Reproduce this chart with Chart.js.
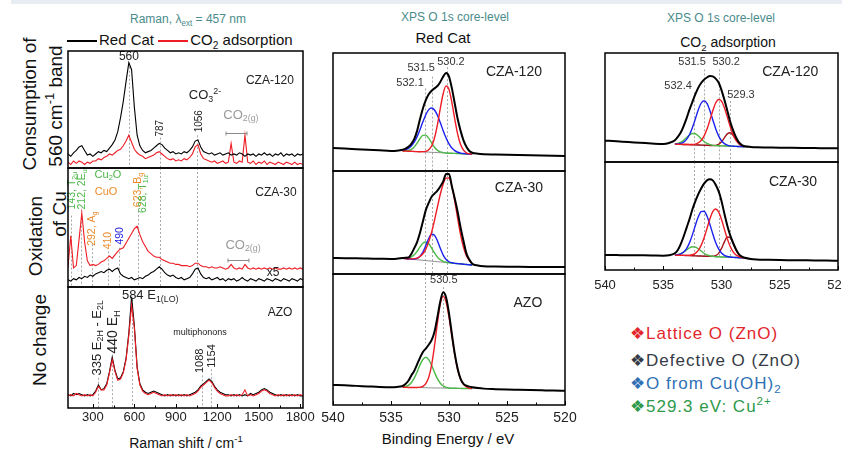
<!DOCTYPE html>
<html>
<head>
<meta charset="utf-8">
<title>Raman and XPS O 1s</title>
<script src="https://cdn.jsdelivr.net/npm/chart.js@4.4.0/dist/chart.umd.min.js"></script>
<style>
body { margin:0; background:#fff; width:842px; height:450px; overflow:hidden; position:relative;
  font-family:"Liberation Sans", Arial, Helvetica, sans-serif; color:#111; }
canvas { position:absolute; }
.band { position:absolute; left:11px; top:0; width:831px; height:4px; background:#e7edf3; }
.c { position:absolute; white-space:nowrap; line-height:1; transform:translate(-50%,-50%); }
.r { transform:translate(-50%,-50%) rotate(-90deg); }
sub, sup { font-size:68%; line-height:0; }
.lgd { position:absolute; white-space:nowrap; line-height:1; }
.ln { display:inline-block; width:30px; border-top:2px solid; vertical-align:middle; margin:0 2px 0 0; }
.k { position:absolute; left:630px; white-space:nowrap; line-height:1; transform:translateY(-50%);
  font-size:17px; letter-spacing:1px; }
</style>
</head>
<body>
<div class="band"></div>

<div class="c" style="left:188px;top:19px;font-size:12px;color:#4a8b8b">Raman, λ<sub>ext</sub> = 457 nm</div>
<div class="lgd" style="left:67px;top:32px;font-size:15px"><span class="ln" style="border-color:#000"></span>Red Cat <span class="ln" style="border-color:#ee1c24"></span>CO<sub>2</sub> adsorption</div>
<div class="c" style="left:455px;top:17px;font-size:12px;color:#4a8b8b">XPS O 1s core-level</div>
<div class="c" style="left:443px;top:37px;font-size:15px">Red Cat</div>
<div class="c" style="left:721px;top:18px;font-size:12px;color:#4a8b8b">XPS O 1s core-level</div>
<div class="c" style="left:728px;top:42px;font-size:14px">CO<sub>2</sub> adsorption</div>

<div class="c r" style="left:29px;top:104px;font-size:19px">Consumption of</div>
<div class="c r" style="left:55px;top:106px;font-size:19px">560 cm<sup>-1</sup> band</div>
<div class="c r" style="left:35px;top:236px;font-size:19px">Oxidation</div>
<div class="c r" style="left:59px;top:214px;font-size:19px">of Cu</div>
<div class="c r" style="left:39px;top:340px;font-size:19px">No change</div>

<div class="c" style="left:186px;top:443px;font-size:14px">Raman shift / cm<sup>-1</sup></div>
<div class="c" style="left:448px;top:438px;font-size:15px">Binding Energy / eV</div>

<div class="k" style="top:333px;color:#e3262b">❖Lattice O (ZnO)</div>
<div class="k" style="top:360px;color:#353b46">❖Defective O (ZnO)</div>
<div class="k" style="top:383px;color:#2f70b5">❖O from Cu(OH)<sub>2</sub></div>
<div class="k" style="top:406px;color:#2e9a4c">❖529.3 eV: Cu<sup>2+</sup></div>

<script>
// ---- Raman data (cm-1, intensity in arbitrary units 0-100 per panel)
const ramanShift = [120,140,160,180,200,220,240,260,280,300,
  320,340,360,380,400,420,440,460,480,500,
  520,540,560,580,600,620,640,660,680,700,
  720,740,760,780,800,820,840,860,880,900,
  920,940,960,980,1000,1020,1040,1060,1080,1100,
  1120,1140,1160,1180,1200,1220,1240,1260,1280,1300,
  1320,1340,1360,1380,1400,1420,1440,1460,1480,1500,
  1520,1540,1560,1580,1600,1620,1640,1660,1680,1700,
  1720,1740,1760,1780,1800,1820];
const ramanTicks = [300, 600, 900, 1200, 1500, 1800];

const cza120RedCat = [12,10,13,15,18,19,15,11,12,10, 12,14,13,15,14,17,20,24,31,43,
  57,74,90,84,52,28,19,15,13,14, 15,17,19,21,20,17,15,13,14,12,
  13,12,14,13,15,18,23,24,18,14, 13,12,13,11,12,13,11,12,13,11,
  12,11,13,12,10,12,11,12,10,12, 11,13,11,12,10,12,11,13,10,12, 11,12,10,12,11,12];
const cza120CO2 = [5,3,6,4,6,5,3,5,4,6, 6,8,7,9,10,12,11,13,15,16,
  19,23,28,22,16,13,11,10,8,9, 10,11,13,14,12,10,8,7,8,6,
  7,6,8,7,9,12,18,20,12,8, 7,6,5,6,4,5,6,4,5,21,
  5,4,6,5,28,5,4,6,3,5, 4,6,3,5,4,3,5,4,3,5, 4,3,5,3,4,3];
const cza30RedCat = [6,5,7,6,8,7,9,8,10,9, 11,12,13,12,14,15,13,15,16,11,
  9,8,7,8,6,7,8,7,9,10, 12,13,15,17,15,12,10,9,10,8,
  7,8,6,7,8,11,15,16,11,8, 7,8,6,7,8,6,7,5,7,6,
  7,5,6,8,6,5,7,6,5,7, 6,5,7,6,5,7,6,5,7,6, 5,7,6,5,7,6];
const cza30CO2 = [17,43,16,18,40,62,38,22,18,19, 18,19,21,22,24,26,24,27,30,32,
  33,37,41,45,49,51,44,38,34,30, 28,26,25,25,23,22,21,20,20,19,
  19,18,18,18,17,18,20,20,18,17, 17,16,17,16,16,17,16,15,16,19,
  16,15,16,15,19,16,15,16,15,16, 15,16,15,16,15,16,15,15,16,15, 16,15,16,15,16,15];
const azoRedCat = [11,10,12,11,12,11,10,11,10,11, 14,19,15,16,20,30,42,31,24,25,
  30,41,62,92,68,34,20,15,13,12, 13,14,13,12,11,10,11,10,11,10,
  11,10,11,10,11,12,13,15,18,20, 22,24,22,18,15,13,12,11,11,10,
  11,10,11,10,11,10,12,11,12,13, 15,16,15,13,12,11,10,11,10,11, 10,11,10,11,10,10];
const azoCO2 = [10,11,10,12,11,10,11,10,11,10, 13,18,15,15,19,29,40,30,23,24,
  29,40,60,85,66,33,19,14,12,11, 12,13,12,11,10,11,10,11,10,11,
  10,11,10,11,10,11,12,14,17,19, 21,23,21,17,14,12,11,10,10,11,
  10,11,10,11,15,10,11,10,11,12, 14,15,14,12,11,10,11,10,11,10, 11,10,11,10,11,10];

// ---- XPS O 1s data (binding energy eV, intensity 0-100 per panel)
const xpsEnergy = [540,539,538,537,536,535,534.5,
  534,533.75,533.5,533.25,533,532.75,532.5,532.25,532,531.75,531.5,531.25,531,
  530.75,530.5,530.25,530,529.75,529.5,529.25,529,528.75,528.5,528.25,528,
  527.5,527,526,525,524,523,522,521,520];
const xpsPeakEnergy = [534,533.75,533.5,533.25,533,532.75,532.5,532.25,532,531.75,531.5,531.25,531,
  530.75,530.5,530.25,530,529.75,529.5,529.25,529,528.75,528.5,528.25,528];
const xpsTicks = [540, 535, 530, 525, 520];

const rc120Sum = [19.5,19,18.5,18,17.5,17,17.2,
  18,19,20.5,23,27,34,44,53,60,65,68,70,72,75.5,80,83,80,70,57,44,34,26,20.5,17,15.5,
  14.6,14.2,14,13.8,13.6,13.4,13.2,13,12.8];
const rc120Red = [17,16.9,16.8,16.7,16.5,16.4,16.3,16.4,16.7,18,21.2,28,39,53,65.7,72.1,69,58,43.8,31.1,22.4,17.7,15.4,14.6,14.2];
const rc120Blue = [17.5,18,19.2,21.2,24.4,29.1,35.1,41.7,47.7,52,53.4,51.7,47.2,41,34.2,28,23,19.5,17.3,15.9,15.2,14.8,14.5,14.3,14.2];
const rc120Green = [17,17.1,17.4,18.3,20.3,23.6,27.4,30.2,30.4,27.8,23.8,20.1,17.6,16.2,15.6,15.3,15.1,15,14.9,14.8,14.7,14.6,14.4,14.3,14.2];
const rc120Base = [17,16.9,16.8,16.7,16.5,16.4,16.3,16.2,16.1,16,15.8,15.7,15.6,15.5,15.4,15.3,15.1,15,14.9,14.8,14.7,14.6,14.4,14.3,14.2];

const rc30Sum = [15.5,15.3,15.2,15,14.8,14.6,14.8,
  15.5,15.8,16,19.5,25,31,40,51,62,69,75,78,81,85,90,97,97,85,73,60,45,32,20,14,10,
  8.3,7.6,7.3,7.1,7,6.9,6.8,6.8,6.7];
const rc30Red = [15.2,15,14.7,14.7,14.9,15.5,17,19.7,24.2,31.2,40.5,52.1,64.9,77.4,87.4,93.1,93.2,85,70.6,53.8,38.1,25.9,17.7,13,10.3];
const rc30Blue = [15.2,14.9,14.6,14.5,14.5,15.1,17.2,21.3,27.6,34.5,38.6,37.7,32.3,24.9,18.3,14.1,11.9,10.9,10.3,10.1,9.8,9.5,9.2,9,8.7];
const rc30Green = [15.3,15.2,15.4,16.5,18.6,22,26.3,29.8,31,29.3,25.2,20.4,16.4,13.8,12.2,11.4,11,10.6,10.3,10.1,9.8,9.5,9.2,9,8.7];
const rc30Base = [15.2,14.9,14.6,14.4,14.1,13.8,13.6,13.3,13,12.8,12.5,12.2,11.9,11.7,11.4,11.1,10.9,10.6,10.3,10.1,9.8,9.5,9.2,9,8.7];

const rcAzoSum = [15.3,15,14.6,14.2,13.8,13.6,13.8,
  14.5,16,18.5,22.5,26,31,36,40.5,43,46,49.5,56,67,79,86,82,70,54,39,27.5,20,16.2,14.8,14,13.5,
  12.9,12.5,12.1,11.8,11.6,11.4,11.2,11,10.9];
const rcAzoRed = [13.5,13.5,13.4,13.4,13.4,13.4,13.6,14.2,16.3,21.1,30.5,45.1,62.5,77.2,82.9,78.6,67,52.2,38,26.9,19.7,15.7,13.8,12.9,12.6];
const rcAzoGreen = [13.7,14.1,15,17,20.5,25.2,30.6,34.7,36.4,34.6,30.4,24.9,20.1,16.6,14.5,13.5,13,12.8,12.8,12.7,12.7,12.6,12.6,12.5,12.5];
const rcAzoBase = [13.5,13.5,13.4,13.4,13.4,13.3,13.3,13.2,13.2,13.1,13.1,13,13,13,12.9,12.9,12.8,12.8,12.8,12.7,12.7,12.6,12.6,12.5,12.5];

const co120Sum = [19.6,19,18.3,17.7,17,16.5,17.5,
  20,23,27,33,40,48,55,62,68,72.5,75.5,77.5,78.9,78.5,76.5,73,66,57,47,37,29,22.5,18,15.5,14.5,
  13.8,13.5,13.3,13.1,13,12.9,12.8,12.6,12.5];
const co120Red = [16.4,16.3,16.2,16.1,16,16,16.1,16.4,17.5,19.7,23.8,30,38.2,47,54.1,57.4,55.8,49.7,41.2,32.4,25.1,19.9,16.8,15.2,14.4];
const co120Blue = [16.5,16.6,17.1,18.3,20.7,25,31.4,39.4,47.7,53.9,56.2,53.7,47.3,38.8,30.6,24,19.5,16.9,15.5,14.8,14.5,14.3,14.2,14.1,14];
const co120Green = [16.7,17.1,18.2,19.9,22.4,24.8,26.2,25.9,24,21.3,18.8,17,15.9,15.3,15,14.9,14.8,14.7,14.6,14.5,14.4,14.3,14.2,14.1,14];
const co120Cu = [16.4,16.3,16.2,16.1,16,15.9,15.8,15.7,15.6,15.5,15.4,15.3,15.2,15.2,15.3,16.2,18.5,22.2,25.8,26.8,24.3,20.2,16.8,14.9,14.2];
const co120Base = [16.4,16.3,16.2,16.1,16,15.9,15.8,15.7,15.6,15.5,15.4,15.3,15.2,15.1,15,14.9,14.8,14.7,14.6,14.5,14.4,14.3,14.2,14.1,14];

const co30Sum = [13.9,13.8,13.7,13.6,13.5,13.3,13.6,
  15.5,18.5,24,31,39,47,56,63.5,70,75.5,80,83,84,83,79,73,64,52,41,32,25,19,14.5,12.3,11.3,
  10.2,9.7,9.4,9.2,9.1,9,8.9,8.7,8.6];
const co30Red = [13.8,13.7,13.6,13.5,13.5,13.6,14.1,15.4,18.1,22.8,29.7,38.4,47.3,54.1,56.5,53.8,46.8,37.7,28.8,21.7,16.8,13.9,12.3,11.6,11.3];
const co30Blue = [14,14.2,14.9,16.6,19.8,25.1,32.5,41.1,49,54,54.4,50,42.3,33.5,25.4,19.5,15.7,13.6,12.5,12,11.7,11.6,11.4,11.3,11.2];
const co30Green = [14,14.4,15.2,16.6,18.5,20.4,21.5,21.2,19.7,17.6,15.5,14,13.2,12.7,12.3,12.2,12.1,12,11.9,11.8,11.7,11.6,11.4,11.3,11.2];
const co30Cu = [13.8,13.7,13.6,13.5,13.4,13.3,13.2,13.1,13,12.9,12.8,12.7,12.6,12.7,13.3,15.4,20,26.1,30.5,29.9,24.6,18.3,14,12,11.4];
const co30Base = [13.8,13.7,13.6,13.5,13.4,13.3,13.2,13.1,13,12.9,12.8,12.7,12.6,12.5,12.3,12.2,12.1,12,11.9,11.8,11.7,11.6,11.4,11.3,11.2];

// ---- drawing
const FONT = '"Liberation Sans", Arial, Helvetica, sans-serif';
const RED = '#ee1c24', BLUE = '#1c22ee', GREEN = '#4cb848', DARKRED = '#a3161c', GRAY = '#8c8c8c';
const ORANGE = '#ea8a2a', TXT = '#222';
const NOTES = {};

// text with _{sub} and ^{sup} parts
function rich(ctx, str, x, y, size, color, align, rot) {
  const parts = [];
  const re = /([_^])\{([^}]*)\}|([^_^]+)/g;
  let m;
  while ((m = re.exec(str)) !== null) {
    if (m[3] !== undefined) parts.push({ s: m[3], k: 0 });
    else parts.push({ s: m[2], k: m[1] === '_' ? 1 : 2 });
  }
  ctx.save();
  ctx.translate(x, y);
  if (rot) ctx.rotate(rot * Math.PI / 180);
  ctx.fillStyle = color;
  ctx.textBaseline = 'middle';
  ctx.textAlign = 'left';
  let w = 0;
  parts.forEach(p => {
    p.f = p.k ? size * 0.68 : size;
    ctx.font = p.f + 'px ' + FONT;
    p.w = ctx.measureText(p.s).width;
    w += p.w;
  });
  let cx = align === 'left' ? 0 : align === 'right' ? -w : -w / 2;
  parts.forEach(p => {
    ctx.font = p.f + 'px ' + FONT;
    const dy = p.k === 1 ? size * 0.28 : p.k === 2 ? -size * 0.32 : 0;
    ctx.fillText(p.s, cx, dy);
    cx += p.w;
  });
  ctx.restore();
}

const notesPlugin = {
  id: 'notes',
  beforeDatasetsDraw(chart) {
    const n = NOTES[chart.canvas.id];
    if (!n || !n.lines) return;
    const { ctx, scales: { x, y } } = chart;
    ctx.save();
    ctx.strokeStyle = '#a9a9a9';
    ctx.lineWidth = 1;
    ctx.setLineDash([2, 2]);
    n.lines.forEach(l => {
      const px = Math.round(x.getPixelForValue(l[0])) + 0.5;
      ctx.beginPath();
      ctx.moveTo(px, y.getPixelForValue(l[1]));
      ctx.lineTo(px, y.getPixelForValue(l[2]));
      ctx.stroke();
    });
    ctx.restore();
  },
  afterDatasetsDraw(chart) {
    const n = NOTES[chart.canvas.id] || {};
    const { ctx, chartArea: a, scales: { x, y } } = chart;
    ctx.save();
    (n.brackets || []).forEach(b => {
      const x0 = x.getPixelForValue(b[0]), x1 = x.getPixelForValue(b[1]);
      const py = Math.round(y.getPixelForValue(b[2])) + 0.5;
      ctx.strokeStyle = '#8a8a8a';
      ctx.lineWidth = 1;
      ctx.beginPath();
      ctx.moveTo(x0, py); ctx.lineTo(x1, py);
      ctx.moveTo(x0, py - 2); ctx.lineTo(x0, py + 2);
      ctx.moveTo(x1, py - 2); ctx.lineTo(x1, py + 2);
      ctx.stroke();
    });
    (n.items || []).forEach(t => rich(ctx, t.t, x.getPixelForValue(t.x), y.getPixelForValue(t.y),
      t.s || 12, t.c || TXT, t.a || 'center', t.r || 0));
    if (n.ticks) {
      const v = n.ticks;
      ctx.strokeStyle = '#000';
      ctx.lineWidth = 1;
      ctx.beginPath();
      v.forEach((t, i) => {
        const px = Math.round(x.getPixelForValue(t)) + 0.5;
        ctx.moveTo(px, a.bottom); ctx.lineTo(px, a.bottom - 4);
        if (i < v.length - 1) {
          const pm = Math.round(x.getPixelForValue((t + v[i + 1]) / 2)) + 0.5;
          ctx.moveTo(pm, a.bottom); ctx.lineTo(pm, a.bottom - 2.5);
        }
      });
      ctx.stroke();
    }
    ctx.strokeStyle = '#000';
    ctx.lineWidth = 1.5;
    ctx.strokeRect(a.left, a.top, a.width, a.height);
    ctx.restore();
  }
};

function series(xs, ys, color, width) {
  return { xs: xs, ys: ys, color: color, width: width };
}

// box = [left, top, width, height] of the plot frame
function makePanel(id, box, xr, sets, opt) {
  const padX = 20, padT = 6;
  const axisH = opt.axis ? opt.axis.h : 0;
  const padB = axisH ? 0 : 6;
  const cv = document.createElement('canvas');
  cv.id = id;
  cv.width = box[2] + 2 * padX;
  cv.height = box[3] + padT + (axisH || padB);
  cv.style.left = (box[0] - padX) + 'px';
  cv.style.top = (box[1] - padT) + 'px';
  document.body.appendChild(cv);
  NOTES[id] = opt;
  new Chart(cv, {
    type: 'line',
    data: {
      datasets: sets.map(s => ({
        data: s.xs.map((v, i) => ({ x: v, y: s.ys[i] })),
        borderColor: s.color,
        borderWidth: s.width,
        pointRadius: 0,
        fill: false,
        tension: opt.smooth ? 0.4 : 0,
        cubicInterpolationMode: opt.smooth ? 'monotone' : 'default'
      }))
    },
    options: {
      responsive: false,
      animation: false,
      events: [],
      layout: { padding: { left: padX, right: padX, top: padT, bottom: padB } },
      plugins: { legend: { display: false }, tooltip: { enabled: false } },
      scales: {
        x: {
          type: 'linear', min: xr[0], max: xr[1], reverse: !!opt.reverse,
          display: !!axisH,
          afterBuildTicks: sc => { sc.ticks = opt.tickVals.map(v => ({ value: v })); },
          afterFit: sc => { if (axisH) sc.height = axisH; },
          grid: { display: false, drawTicks: false },
          border: { display: false },
          ticks: {
            padding: opt.axis ? opt.axis.pad : 0,
            font: { family: FONT, size: opt.axis ? opt.axis.size : 12 },
            color: '#222', maxRotation: 0, autoSkip: false,
            callback: v => String(v)
          }
        },
        y: { min: 0, max: 100, display: false }
      }
    },
    plugins: [notesPlugin]
  });
}

// ---- Raman column
makePanel('ramanTop', [68, 51, 235, 117], [120, 1820], [
  series(ramanShift, cza120RedCat, '#000', 1.1),
  series(ramanShift, cza120CO2, RED, 1.1)
], {
  tickVals: ramanTicks,
  lines: [[560, 90, 0], [787, 26, 0], [1056, 28, 0]],
  brackets: [[1263, 1415, 30]],
  items: [
    { t: '560', x: 561, y: 95, s: 12 },
    { t: '787', x: 786, y: 34, s: 10, r: -90 },
    { t: '1056', x: 1068, y: 40, s: 10, r: -90 },
    { t: 'CO_{3}^{2-}', x: 1111, y: 62, s: 13 },
    { t: 'CO_{2(g)}', x: 1371, y: 45, s: 13, c: '#9a9a9a' },
    { t: 'CZA-120', x: 1581, y: 75, s: 12 }
  ]
});

makePanel('ramanMid', [68, 168, 235, 119], [120, 1820], [
  series(ramanShift, cza30CO2, RED, 1.1),
  series(ramanShift, cza30RedCat, '#000', 1.1)
], {
  tickVals: ramanTicks,
  lines: [[143, 60, 0], [212, 65, 0], [292, 36, 0], [410, 30, 0], [490, 33, 0],
    [623, 64, 0], [787, 100, 0], [1056, 100, 0]],
  brackets: [[1277, 1429, 22.7]],
  items: [
    { t: '143, T_{2u}', x: 149, y: 81, s: 10.5, c: GREEN, r: -90 },
    { t: '212, 2E_{u}', x: 221, y: 82, s: 10.5, c: GREEN, r: -90 },
    { t: 'Cu_{2}O', x: 409, y: 94, s: 11, c: GREEN },
    { t: 'CuO', x: 395, y: 80, s: 11, c: ORANGE },
    { t: '292, A_{g}', x: 294, y: 49, s: 10.5, c: ORANGE, r: -90 },
    { t: '410', x: 409, y: 39, s: 10.5, c: ORANGE, r: -90 },
    { t: '490', x: 496, y: 43, s: 10.5, c: '#2222dd', r: -90 },
    { t: '623, B_{g}', x: 626, y: 81.5, s: 10.5, c: ORANGE, r: -90 },
    { t: '628, T_{1u}', x: 663, y: 78, s: 10.5, c: GREEN, r: -90 },
    { t: 'CZA-30', x: 1625, y: 79, s: 12 },
    { t: 'CO_{2(g)}', x: 1386, y: 35, s: 13, c: '#9a9a9a' },
    { t: 'x5', x: 1603, y: 12, s: 12 }
  ]
});

makePanel('ramanBot', [68, 287, 235, 121], [120, 1820], [
  series(ramanShift, azoCO2, RED, 1.1),
  series(ramanShift, azoRedCat, '#000', 1.1)
], {
  tickVals: ramanTicks,
  ticks: ramanTicks,
  axis: { h: 24, pad: 2, size: 13 },
  lines: [[335, 25, 0], [440, 42, 0], [584, 90, 0], [1088, 27, 0], [1154, 32, 0]],
  items: [
    { t: '584 E_{1(LO)}', x: 510, y: 93, s: 13, a: 'left' },
    { t: '335 E_{2H} - E_{2L}', x: 330, y: 58, s: 13, r: -90 },
    { t: '440 E_{H}', x: 446, y: 63, s: 14, r: -90 },
    { t: 'multiphonons', x: 1075, y: 62, s: 9 },
    { t: '1088', x: 1075, y: 39, s: 11, r: -90 },
    { t: '1154', x: 1162, y: 43, s: 11, r: -90 },
    { t: 'AZO', x: 1654, y: 79, s: 12 }
  ]
});

// ---- XPS, Red Cat column
makePanel('xpsRc120', [333, 53, 232, 118], [520, 540], [
  series(xpsEnergy, rc120Sum, '#000', 2),
  series(xpsPeakEnergy, rc120Red, RED, 1.4),
  series(xpsPeakEnergy, rc120Blue, BLUE, 1.4),
  series(xpsPeakEnergy, rc120Green, GREEN, 1.4),
  series(xpsPeakEnergy, rc120Base, GRAY, 1)
], {
  smooth: true, reverse: true, tickVals: xpsTicks,
  lines: [[532.1, 70, 0], [531.5, 80, 0], [530.2, 88, 0]],
  items: [
    { t: '531.5', x: 532.4, y: 87, s: 11, c: '#333' },
    { t: '530.2', x: 529.83, y: 92.4, s: 11, c: '#333' },
    { t: '532.1', x: 533.36, y: 74.6, s: 11, c: '#333' },
    { t: 'CZA-120', x: 524.4, y: 84, s: 14 }
  ]
});

makePanel('xpsRc30', [333, 171, 232, 103], [520, 540], [
  series(xpsEnergy, rc30Sum, '#000', 2),
  series(xpsPeakEnergy, rc30Red, RED, 1.4),
  series(xpsPeakEnergy, rc30Blue, BLUE, 1.4),
  series(xpsPeakEnergy, rc30Green, GREEN, 1.4),
  series(xpsPeakEnergy, rc30Base, GRAY, 1)
], {
  smooth: true, reverse: true, tickVals: xpsTicks,
  lines: [[532.1, 100, 0], [531.5, 100, 0], [530.2, 100, 0]],
  items: [{ t: 'CZA-30', x: 523.97, y: 83.5, s: 14 }]
});

makePanel('xpsRcAzo', [333, 274, 232, 131], [520, 540], [
  series(xpsEnergy, rcAzoSum, '#000', 2),
  series(xpsPeakEnergy, rcAzoRed, RED, 1.4),
  series(xpsPeakEnergy, rcAzoGreen, GREEN, 1.4),
  series(xpsPeakEnergy, rcAzoBase, GRAY, 1)
], {
  smooth: true, reverse: true, tickVals: xpsTicks, ticks: xpsTicks,
  axis: { h: 24, pad: 5, size: 14 },
  lines: [[532.1, 100, 47], [530.5, 90, 13]],
  items: [
    { t: '530.5', x: 530.45, y: 95.4, s: 11, c: '#333' },
    { t: 'AZO', x: 523.2, y: 78, s: 14 }
  ]
});

// ---- XPS, CO2 adsorption column
makePanel('xpsCo120', [605, 53, 233, 109], [520, 540], [
  series(xpsEnergy, co120Sum, '#000', 2),
  series(xpsPeakEnergy, co120Red, RED, 1.4),
  series(xpsPeakEnergy, co120Blue, BLUE, 1.4),
  series(xpsPeakEnergy, co120Green, GREEN, 1.4),
  series(xpsPeakEnergy, co120Cu, DARKRED, 1.4),
  series(xpsPeakEnergy, co120Base, GRAY, 1)
], {
  smooth: true, reverse: true, tickVals: xpsTicks,
  lines: [[532.4, 64, 0], [531.5, 85, 0], [530.2, 85, 0], [529.3, 56, 0]],
  items: [
    { t: '531.5', x: 532.53, y: 91.7, s: 11, c: '#333' },
    { t: '530.2', x: 529.6, y: 91.7, s: 11, c: '#333' },
    { t: '532.4', x: 533.73, y: 69.7, s: 11, c: '#333' },
    { t: '529.3', x: 528.33, y: 61.5, s: 11, c: '#333' },
    { t: 'CZA-120', x: 524.1, y: 82.6, s: 14 }
  ]
});

makePanel('xpsCo30', [605, 162, 233, 108], [520, 540], [
  series(xpsEnergy, co30Sum, '#000', 2),
  series(xpsPeakEnergy, co30Red, RED, 1.4),
  series(xpsPeakEnergy, co30Blue, BLUE, 1.4),
  series(xpsPeakEnergy, co30Green, GREEN, 1.4),
  series(xpsPeakEnergy, co30Cu, DARKRED, 1.4),
  series(xpsPeakEnergy, co30Base, GRAY, 1)
], {
  smooth: true, reverse: true, tickVals: xpsTicks, ticks: xpsTicks,
  axis: { h: 24, pad: 8, size: 13 },
  lines: [[532.4, 100, 11], [531.5, 100, 11], [530.2, 100, 11], [529.3, 100, 11]],
  items: [{ t: 'CZA-30', x: 523.86, y: 81.5, s: 14 }]
});
</script>
</body>
</html>
